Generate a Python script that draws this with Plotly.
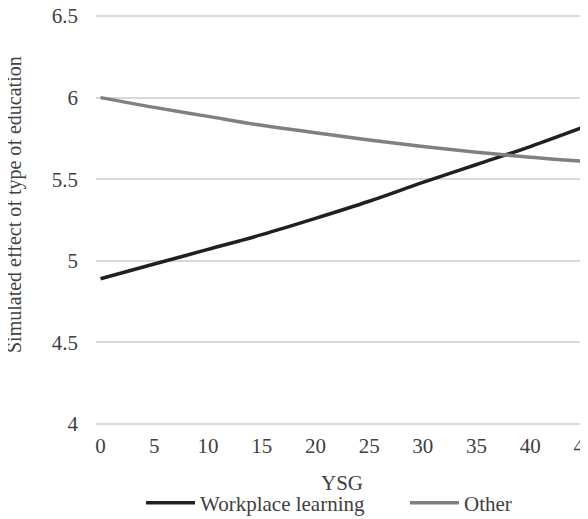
import plotly.graph_objects as go

ysg = [0, 5, 10, 15, 20, 25, 30, 35, 40, 45]
workplace = [4.89, 4.98, 5.07, 5.16, 5.26, 5.365, 5.48, 5.59, 5.70, 5.82]
other = [6.00, 5.94, 5.885, 5.83, 5.785, 5.74, 5.70, 5.665, 5.635, 5.61]
series_names = ["Workplace learning", "Other"]
y_ticks = [4, 4.5, 5, 5.5, 6, 6.5]
y_tick_text = ["4", "4.5", "5", "5.5", "6", "6.5"]
x_ticks = [0, 5, 10, 15, 20, 25, 30, 35, 40, 45]

FONT = "Liberation Serif, Times New Roman, serif"
TXT = "#404040"
FS = 21

fig = go.Figure()
fig.add_trace(go.Scatter(x=ysg, y=workplace, name=series_names[0], mode="lines",
                         legend="legend",
                         line=dict(color="#231f20", width=3.5, shape="spline")))
fig.add_trace(go.Scatter(x=ysg, y=other, name=series_names[1], mode="lines",
                         legend="legend2",
                         line=dict(color="#808080", width=3.5, shape="spline")))

# plot area: 414 px tall, range padded by 3 px on each side so the end gridlines show
pad = 3 / 163.2
legend_common = dict(orientation="h", y=-76 / 414, yanchor="middle", xanchor="left",
                     font=dict(family=FONT, size=FS, color=TXT), itemwidth=49,
                     bgcolor="rgba(0,0,0,0)", borderwidth=0)

fig.update_layout(
    width=580, height=511,
    margin=dict(l=88, r=0, t=5, b=92, autoexpand=False),
    paper_bgcolor="white", plot_bgcolor="white",
    font=dict(family=FONT, size=FS, color=TXT),
    showlegend=True,
    legend=dict(x=0.0915, **legend_common),
    legend2=dict(x=0.628, **legend_common),
    xaxis=dict(range=[-0.42, 45.37], tickmode="array", tickvals=x_ticks,
               showgrid=False, zeroline=False, showline=False, ticks="",
               ticklabelstandoff=4, ticklabeloverflow="allow",
               title=dict(text="YSG", standoff=18, font=dict(family=FONT, size=FS, color=TXT))),
    yaxis=dict(range=[4 - pad, 6.5 + pad], tickmode="array", tickvals=y_ticks, ticktext=y_tick_text,
               showgrid=True, gridcolor="#d9d9d9", gridwidth=1.5, zeroline=False,
               showline=False, ticks="", ticklabelstandoff=17, ticklabeloverflow="allow"),
    annotations=[dict(text="Simulated effect of type of education", textangle=-90,
                      xref="paper", yref="paper", x=-0.1646, xanchor="center",
                      y=(424 - 205 + 3) / 414, yanchor="middle", showarrow=False,
                      font=dict(family=FONT, size=20, color=TXT))],
)

fig.write_html("out.html")
